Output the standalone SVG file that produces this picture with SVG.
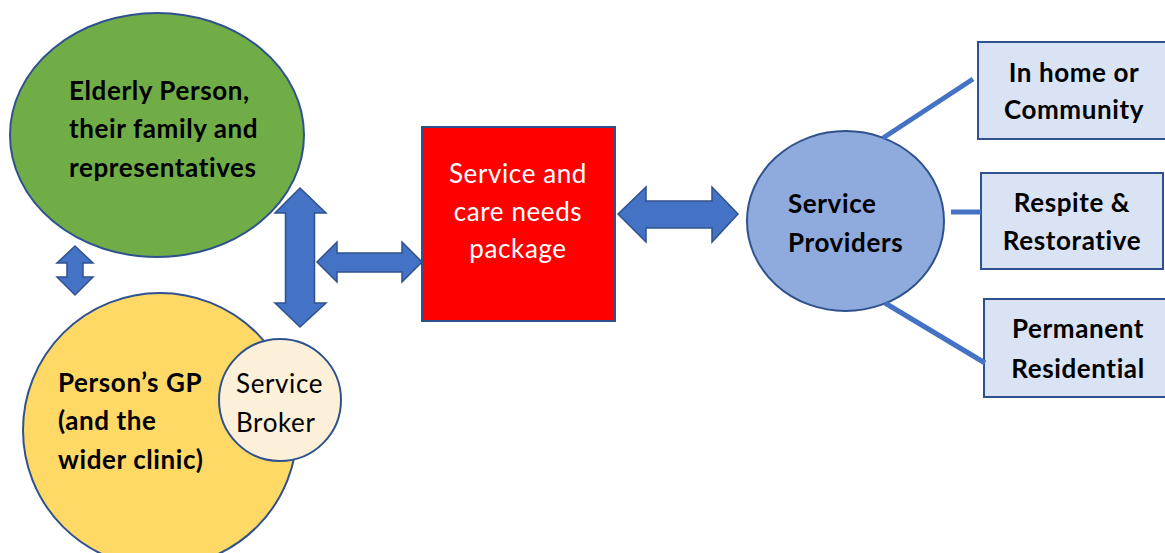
<svg xmlns="http://www.w3.org/2000/svg" width="1165" height="553" viewBox="0 0 1165 553">
<style>
.node{stroke:#2F528F;stroke-width:2}
.arrow{fill:#4472C4;stroke:#2F528F;stroke-width:1.5;stroke-linejoin:miter}
.line{stroke:#4472C4;stroke-width:5;fill:none}
text{font-family:Lato,"Open Sans","Liberation Sans",sans-serif;font-size:26px;letter-spacing:0.6px;fill:#000}
.b{font-weight:bold}
.w{fill:#fff}
.c{text-anchor:middle}
</style>
<rect width="1165" height="553" fill="#fff"/>
<g id="elderly">
<ellipse class="node" cx="157" cy="135" rx="147" ry="122" fill="#70AD47"/>
<text class="b" x="69" y="100">Elderly Person,</text>
<text class="b" x="69" y="138">their family and</text>
<text class="b" x="69" y="177">representatives</text>
</g>
<g id="gp">
<circle class="node" cx="160" cy="430" r="137" fill="#FFD966"/>
<text class="b" x="58" y="392">Person’s GP</text>
<text class="b" x="58" y="430">(and the</text>
<text class="b" x="58" y="469">wider clinic)</text>
</g>
<g id="broker">
<circle class="node" cx="280" cy="400" r="61" fill="#FDF0D8"/>
<text x="236" y="393">Service</text>
<text x="236" y="432">Broker</text>
</g>
<g id="package">
<rect class="node" x="422" y="127" width="193" height="194" fill="#FF0000"/>
<text class="w c" x="518" y="183">Service and</text>
<text class="w c" x="518" y="221">care needs</text>
<text class="w c" x="518" y="258">package</text>
</g>
<g id="providers">
<ellipse class="node" cx="845.5" cy="221" rx="98.5" ry="90" fill="#8FAADC"/>
<text class="b" x="788" y="213">Service</text>
<text class="b" x="788" y="252">Providers</text>
</g>
<g id="inhome">
<rect class="node" x="978" y="42" width="200" height="97" fill="#DAE3F3"/>
<text class="b c" x="1074" y="82">In home or</text>
<text class="b c" x="1074" y="119">Community</text>
</g>
<g id="respite">
<rect class="node" x="981" y="173" width="182" height="96" fill="#DAE3F3"/>
<text class="b c" x="1072" y="212">Respite &amp;</text>
<text class="b c" x="1072" y="250">Restorative</text>
</g>
<g id="permanent">
<rect class="node" x="984" y="299" width="200" height="98" fill="#DAE3F3"/>
<text class="b c" x="1078" y="338">Permanent</text>
<text class="b c" x="1078" y="378">Residential</text>
</g>
<g id="connectors">
<polygon class="arrow" points="75,246 93,263 83,263 83,277 93,277 75,295 57,277 67,277 67,263 57,263"/>
<polygon class="arrow" points="300,188 326,213 314.5,213 314.5,303 326,303 300,327 275,303 285.5,303 285.5,213 275,213"/>
<polygon class="arrow" points="317,262 337,242 337,253 402,253 402,242 422,262 402,282 402,272 337,272 337,282"/>
<polygon class="arrow" points="618,214 646,187 646,201 712,201 712,187 738,214 712,242 712,228 646,228 646,242"/>
<line class="line" x1="883" y1="138" x2="973" y2="79"/>
<line class="line" x1="951" y1="212" x2="981" y2="212"/>
<line class="line" x1="885" y1="303" x2="985" y2="363"/>
</g>
</svg>
